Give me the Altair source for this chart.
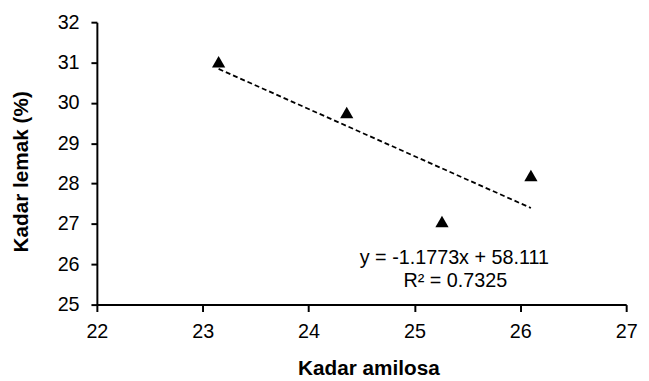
import altair as alt
import pandas as pd

# Data
amilosa = [23.15, 24.36, 25.26, 26.10]
lemak = [31.02, 29.76, 27.06, 28.20]
x_ticks = [22, 23, 24, 25, 26, 27]
y_ticks = [25, 26, 27, 28, 29, 30, 31, 32]
eq_text = ["y = -1.1773x + 58.111"]
r2_text = ["R\u00b2 = 0.7325"]

df = pd.DataFrame({"amilosa": amilosa, "lemak": lemak})

FONT = "Liberation Sans"

x_enc = alt.X(
    "amilosa:Q",
    scale=alt.Scale(domain=[22, 27], nice=False, zero=False),
    axis=alt.Axis(
        title="Kadar amilosa", values=x_ticks, format="d", grid=False,
        domainColor="black", domainWidth=2, tickColor="black", tickWidth=2,
        tickSize=7, labelFontSize=20, labelColor="black", labelPadding=10,
        labelFlush=False, labelOverlap=False, labelFont=FONT,
        titleFont=FONT, titleFontSize=21, titleFontWeight="bold",
        titleColor="black", titleX=275, titleY=71, titleAlign="center",
        titleBaseline="alphabetic",
    ),
)
y_enc = alt.Y(
    "lemak:Q",
    scale=alt.Scale(domain=[25, 32], nice=False, zero=False),
    axis=alt.Axis(
        title="Kadar lemak (%)", values=y_ticks, format="d", grid=False,
        domainColor="black", domainWidth=2, tickColor="black", tickWidth=2,
        tickSize=6, labelFontSize=20, labelColor="black", labelPadding=12,
        labelFlush=False, labelOverlap=False, labelFont=FONT,
        titleFont=FONT, titleFontSize=21, titleFontWeight="bold",
        titleColor="black", titleX=-70.5, titleY=151, titleAlign="center",
        titleBaseline="alphabetic", titleAngle=270,
    ),
)

points = alt.Chart(df).mark_point(
    shape="triangle-up", filled=True, size=180, color="black", opacity=1
).encode(x=x_enc, y=y_enc)

trend = alt.Chart(df).transform_regression("amilosa", "lemak").mark_line(
    color="black", strokeDash=[5, 3], strokeWidth=1.8
).encode(x=x_enc, y=y_enc)

eq = alt.Chart(pd.DataFrame({"t": eq_text})).mark_text(
    font=FONT, fontSize=20, color="black", align="center", baseline="alphabetic"
).encode(text="t:N", x=alt.value(362), y=alt.value(244.5))

r2 = alt.Chart(pd.DataFrame({"t": r2_text})).mark_text(
    font=FONT, fontSize=20, color="black", align="center", baseline="alphabetic"
).encode(text="t:N", x=alt.value(363), y=alt.value(268))

chart = alt.layer(trend, points, eq, r2).properties(
    width=536, height=286,
    padding={"left": 90, "top": 12, "right": 15, "bottom": 75},
    autosize="none",
    background="white",
).configure_view(stroke=None)

chart.save("out.html", embed_options={"renderer": "svg", "actions": False})
